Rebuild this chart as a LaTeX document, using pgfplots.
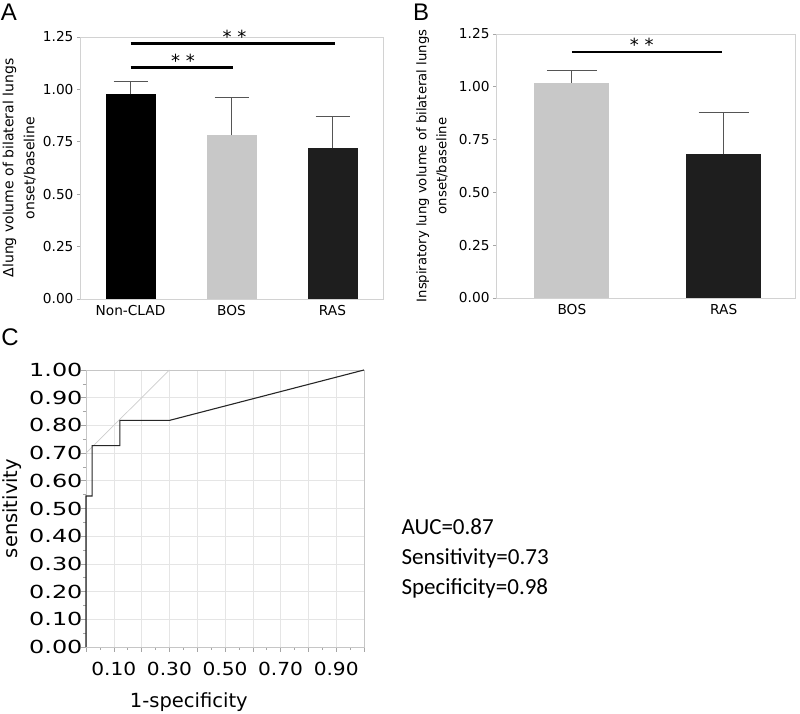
\documentclass[border=0pt]{standalone}
\usepackage{fontspec}
\setmainfont{DejaVu Sans}
\newfontfamily\carlito{Carlito}
\newfontfamily\letterfont{Liberation Sans}
\usepackage{graphicx}
\usepackage{pgfplots}
\pgfplotsset{compat=1.18}

\definecolor{boscol}{HTML}{C8C8C8}
\definecolor{rascol}{HTML}{1E1E1E}
\definecolor{boxcol}{HTML}{D2D2D2}
\definecolor{errcol}{HTML}{555555}

\pgfplotsset{
  barpanel/.style={
    scale only axis, clip=false,
    ymin=0, ymax=1.25,
    ytick={0,0.25,0.5,0.75,1,1.25},
    yticklabels={0.00,0.25,0.50,0.75,1.00,1.25},
    axis line style={boxcol, line width=0.9pt},
    ytick pos=left, tick align=outside, major tick length=3pt,
    ytick style={gray!70, line width=0.7pt},
    xtick style={draw=none},
    ticklabel style={font=\fontsize{13.7}{16}\selectfont},
  },
  errs/.style={error bars/.cd, y dir=plus, y explicit, error mark=|,
    error bar style={errcol, line width=1pt},
    error mark options={errcol, line width=1pt, mark size=#1}},
}
\tikzset{stars/.style={font=\fontsize{18}{18}\selectfont, anchor=base}}

\begin{document}
\begin{tikzpicture}
\path[use as bounding box] (0,0) rectangle (800pt,714pt);

% panel letters
\node[font=\letterfont\fontsize{24}{24}\selectfont] at (9pt,702pt) {A};
\node[font=\letterfont\fontsize{24}{24}\selectfont] at (421pt,702pt) {B};
\node[font=\letterfont\fontsize{24}{24}\selectfont] at (10pt,377pt) {C};

% ---- A ----
\begin{axis}[barpanel,
  at={(80pt,415pt)}, anchor=south west,
  width=303pt, height=262pt,
  xmin=-0.5, xmax=2.5,
  xtick={0,1,2}, xticklabels={Non-CLAD,BOS,RAS},
  ylabel={Δlung volume of bilateral lungs\\onset/baseline},
  ylabel style={at={(axis description cs:-0.201,0.5)}, anchor=center,
    align=center, font=\fontsize{14}{21}\selectfont},
]
\addplot[ybar, bar width=50pt, bar shift=0pt, fill=black, draw=none, errs=17pt]
  coordinates {(0,0.976) +- (0,0.060)};
\addplot[ybar, bar width=50pt, bar shift=0pt, fill=boscol, draw=none, errs=17pt]
  coordinates {(1,0.782) +- (0,0.181)};
\addplot[ybar, bar width=50pt, bar shift=0pt, fill=rascol, draw=none, errs=17pt]
  coordinates {(2,0.719) +- (0,0.150)};
\draw[line width=2.7pt] (axis cs:0,1.218) -- (axis cs:2.02,1.218);
\draw[line width=2.7pt] (axis cs:0,1.106) -- (axis cs:1.01,1.106);
\node[stars] at (axis cs:1.03,1.218) {* *};
\node[stars] at (axis cs:0.52,1.106) {* *};
\end{axis}

% ---- B ----
\begin{axis}[barpanel,
  at={(496pt,416pt)}, anchor=south west,
  width=299pt, height=264pt,
  xmin=-0.5, xmax=1.47,
  xtick={0,1}, xticklabels={BOS,RAS},
  ylabel={Inspiratory lung volume of bilateral lungs\\onset/baseline},
  ylabel style={at={(axis description cs:-0.214,0.5)}, anchor=center,
    align=center, font=\fontsize{13.2}{20}\selectfont},
]
\addplot[ybar, bar width=75pt, bar shift=0pt, fill=boscol, draw=none, errs=25pt]
  coordinates {(0,1.019) +- (0,0.060)};
\addplot[ybar, bar width=75pt, bar shift=0pt, fill=rascol, draw=none, errs=25pt]
  coordinates {(1,0.680) +- (0,0.197)};
\draw[line width=2.7pt] (axis cs:0,1.165) -- (axis cs:0.99,1.165);
\node[stars] at (axis cs:0.46,1.165) {* *};
\end{axis}

% ---- C ----
\begin{axis}[
  scale only axis, clip=false,
  at={(86pt,67pt)}, anchor=south west,
  width=278pt, height=277pt,
  xmin=0, xmax=1, ymin=0, ymax=1,
  xtick={0,0.1,0.2,0.3,0.4,0.5,0.6,0.7,0.8,0.9,1},
  xticklabels={,\scalebox{1.12}[1]{0.10},,\scalebox{1.12}[1]{0.30},,\scalebox{1.12}[1]{0.50},,\scalebox{1.12}[1]{0.70},,\scalebox{1.12}[1]{0.90},},
  ytick={0,0.1,0.2,0.3,0.4,0.5,0.6,0.7,0.8,0.9,1},
  yticklabels={\scalebox{1.33}[1]{0.00},\scalebox{1.33}[1]{0.10},\scalebox{1.33}[1]{0.20},\scalebox{1.33}[1]{0.30},\scalebox{1.33}[1]{0.40},\scalebox{1.33}[1]{0.50},\scalebox{1.33}[1]{0.60},\scalebox{1.33}[1]{0.70},\scalebox{1.33}[1]{0.80},\scalebox{1.33}[1]{0.90},\scalebox{1.33}[1]{1.00}},
  minor x tick num=1, minor y tick num=1,
  tick pos=left, tick align=outside,
  major tick length=5pt, minor tick length=3pt,
  tick style={gray!70, line width=0.6pt},
  grid=major, major grid style={gray!20, line width=0.6pt},
  axis line style={gray!45, line width=0.8pt},
  ticklabel style={font=\fontsize{18}{20}\selectfont},
  xticklabel style={yshift=-7pt},
  yticklabel style={xshift=5pt},
  xlabel={1-specificity},
  xlabel style={at={(axis description cs:0.37,-0.199)}, anchor=center,
    font=\fontsize{19.5}{22}\selectfont},
  ylabel={sensitivity},
  ylabel style={at={(axis description cs:-0.264,0.5)}, anchor=center,
    font=\fontsize{19.5}{22}\selectfont},
]
\addplot[gray!40, line width=0.7pt] coordinates {(0,0.70) (0.30,1.00)};
\addplot[black!85, line width=1.1pt] coordinates {
  (0,0) (0,0.545) (0.022,0.545) (0.022,0.727) (0.122,0.727)
  (0.122,0.818) (0.30,0.818) (1,1)};
\end{axis}

\node[anchor=west, font=\carlito\fontsize{23}{28}\selectfont] at (398pt,187pt) {AUC=0.87};
\node[anchor=west, font=\carlito\fontsize{23}{28}\selectfont] at (398pt,156pt) {Sensitivity=0.73};
\node[anchor=west, font=\carlito\fontsize{23}{28}\selectfont] at (398pt,126pt) {Specificity=0.98};
\end{tikzpicture}
\end{document}
